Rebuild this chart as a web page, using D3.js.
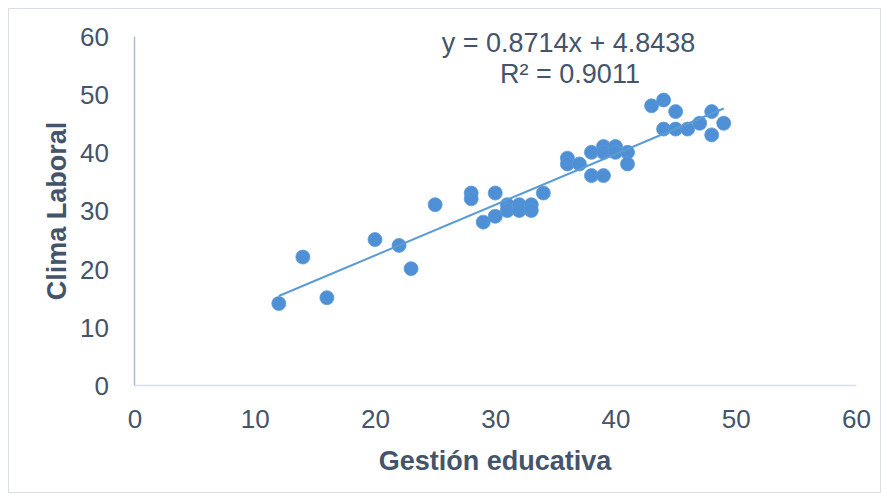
<!DOCTYPE html>
<html><head><meta charset="utf-8">
<script src="https://cdn.jsdelivr.net/npm/d3@7"></script>
<style>
html,body{margin:0;padding:0;background:#fff;}
text{font-family:"Liberation Sans",Arial,sans-serif;}
</style></head>
<body>
<svg id="c" width="887" height="499"></svg>
<script>
const gestion = [12,14,16,20,22,23,25,28,28,29,30,30,31,31,32,32,33,33,34,36,36,37,38,38,39,39,39,40,40,41,41,43,44,44,45,45,46,47,48,48,49];
const clima   = [14,22,15,25,24,20,31,33,32,28,33,29,31,30,31,30,31,30,33,39,38,38,40,36,41,40,36,41,40,40,38,48,49,44,47,44,44,45,47,43,45];
const xTicks = [0,10,20,30,40,50,60];
const yTicks = [0,10,20,30,40,50,60];
const slope = 0.8714, intercept = 4.8438, r2 = 0.9011;
const xTitle = "Gestión educativa", yTitle = "Clima Laboral";

const svg = d3.select("#c");
const txt = "#44546a";
svg.append("rect").attr("x",8.5).attr("y",8.5).attr("width",872).attr("height",484)
  .attr("fill","#fff").attr("stroke","#d9dee6").attr("stroke-width",1);

const x = d3.scaleLinear().domain([0,60]).range([134.5,856]);
const y = d3.scaleLinear().domain([0,60]).range([385,36]);

// axes
const xa = svg.append("g").attr("transform","translate(0,385)")
  .call(d3.axisBottom(x).tickValues(xTicks).tickSize(0));
xa.select(".domain").attr("stroke","#d5dce6").attr("stroke-width",1.5);
xa.selectAll("text").attr("fill",txt).attr("font-size",26).attr("dy",null).attr("y",43);

const ya = svg.append("g").attr("transform","translate(134,0)")
  .call(d3.axisLeft(y).tickValues(yTicks).tickSize(0).tickPadding(25));
ya.select(".domain").attr("stroke","#b0bccd").attr("stroke-width",1.5);
ya.selectAll("text").attr("fill",txt).attr("font-size",26).attr("dy","0.36em");

// points
const data = gestion.map((g,i)=>({g, c: clima[i]}));
svg.append("g").selectAll("circle").data(data).join("circle")
  .attr("cx",d=>x(d.g)).attr("cy",d=>y(d.c)).attr("r",7)
  .attr("fill","#4f8fd5").attr("stroke","#5b9bd5").attr("stroke-width",0.8);

// trendline
const [xmin,xmax] = d3.extent(gestion);
svg.append("line")
  .attr("x1",x(xmin)).attr("y1",y(slope*xmin+intercept))
  .attr("x2",x(xmax)).attr("y2",y(slope*xmax+intercept))
  .attr("stroke","#5b9bd5").attr("stroke-width",2);

// equation
svg.append("text").attr("x",568.5).attr("y",52).attr("text-anchor","middle")
  .attr("fill",txt).attr("font-size",27)
  .text(`y = ${slope.toFixed(4)}x + ${intercept.toFixed(4)}`);
svg.append("text").attr("x",570).attr("y",83).attr("text-anchor","middle")
  .attr("fill",txt).attr("font-size",27)
  .text(`R² = ${r2.toFixed(4)}`);

// titles
svg.append("text").attr("x",495).attr("y",470).attr("text-anchor","middle")
  .attr("fill",txt).attr("font-size",27).attr("font-weight","bold").text(xTitle);
svg.append("text").attr("transform","translate(66,211) rotate(-90)").attr("text-anchor","middle")
  .attr("fill",txt).attr("font-size",27).attr("font-weight","bold").text(yTitle);
</script>
</body></html>
